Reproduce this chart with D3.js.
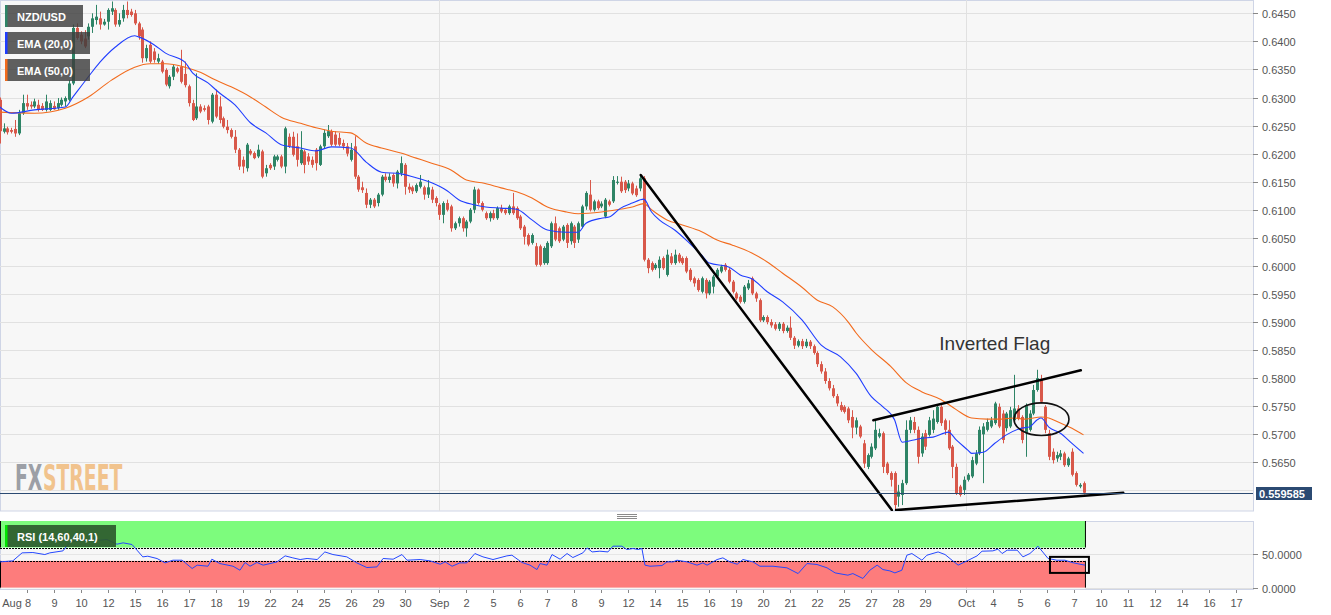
<!DOCTYPE html>
<html><head><meta charset="utf-8">
<script src="https://cdn.jsdelivr.net/npm/d3@7"></script>
<style>body{margin:0;background:#fff;}svg{display:block;font-family:Arial,"Liberation Sans",sans-serif;}</style>
</head><body><svg id="c" width="1331" height="615"></svg>
<script>
// ---- 4H candles NZD/USD (index 0 = first visible candle)
const opens=[
.6296,.6239,.6245,.6242,.6244,.6236,.6272,.6290,.6287,.6284,
.6287,.6285,.6278,.6278,.6285,.6281,.6287,.6293,.6296,.6325,
.6424,.6412,.6405,.6409,.6426,.6438,.6441,.6430,.6435,.6453,
.6456,.6430,.6441,.6456,.6453,.6450,.6432,.6421,.6370,.6394,
.6382,.6364,.6364,.6349,.6320,.6337,.6352,.6355,.6342,.6320,
.6290,.6263,.6284,.6281,.6284,.6257,.6305,.6284,.6263,.6248,
.6242,.6230,.6207,.6189,.6174,.6205,.6201,.6195,.6204,.6165,
.6180,.6177,.6189,.6195,.6177,.6230,.6230,.6213,.6183,.6204,
.6195,.6189,.6207,.6180,.6213,.6231,.6240,.6234,.6228,.6219,
.6213,.6189,.6213,.6159,.6140,.6130,.6109,.6118,.6112,.6127,
.6159,.6153,.6162,.6147,.6165,.6180,.6141,.6140,.6133,.6141,
.6140,.6127,.6136,.6121,.6109,.6091,.6112,.6106,.6067,.6076,
.6085,.6067,.6079,.6100,.6136,.6112,.6094,.6085,.6094,.6085,
.6103,.6100,.6094,.6106,.6103,.6088,.6070,.6055,.6041,.6035,
.6035,.6005,.6005,.6035,.6076,.6067,.6047,.6073,.6044,.6070,
.6047,.6070,.6106,.6127,.6100,.6115,.6106,.6088,.6115,.6115,
.6148,.6150,.6150,.6138,.6147,.6138,.6138,.6156,.6011,.6005,
.5996,.5996,.6014,.5984,.6017,.6005,.6020,.6014,.6014,.5993,
.5978,.5975,.5954,.5975,.5951,.5963,.5981,.5990,.6002,.5993,
.5972,.5951,.5945,.5936,.5960,.5978,.5951,.5939,.5903,.5909,
.5900,.5896,.5888,.5897,.5884,.5890,.5872,.5858,.5866,.5857,
.5865,.5857,.5845,.5825,.5812,.5795,.5782,.5768,.5752,.5749,
.5746,.5731,.5712,.5714,.5684,.5642,.5660,.5675,.5696,.5702,
.5648,.5631,.5631,.5589,.5592,.5613,.5708,.5722,.5708,.5666,
.5702,.5699,.5708,.5722,.5749,.5725,.5708,.5678,.5642,.5607,
.5601,.5619,.5625,.5648,.5666,.5700,.5708,.5714,.5720,.5749,
.5737,.5711,.5714,.5725,.5746,.5731,.5702,.5708,.5737,.5779,
.5797,.5749,.5702,.5669,.5657,.5660,.5666,.5645,.5669,.5631,
.5607,.5613];
const highs=[
.6300,.6254,.6248,.6246,.6260,.6278,.6305,.6305,.6293,.6298,
.6296,.6290,.6305,.6295,.6293,.6299,.6300,.6302,.6331,.6430,
.6432,.6418,.6420,.6432,.6450,.6465,.6453,.6440,.6459,.6471,
.6459,.6450,.6465,.6471,.6458,.6456,.6435,.6425,.6394,.6400,
.6388,.6378,.6367,.6352,.6340,.6358,.6355,.6385,.6364,.6323,
.6296,.6343,.6288,.6286,.6287,.6308,.6314,.6302,.6266,.6260,
.6245,.6242,.6210,.6195,.6219,.6208,.6204,.6216,.6207,.6180,
.6183,.6198,.6198,.6198,.6248,.6236,.6239,.6236,.6240,.6207,
.6201,.6195,.6210,.6216,.6243,.6251,.6243,.6240,.6237,.6225,
.6219,.6219,.6231,.6162,.6150,.6138,.6121,.6121,.6130,.6162,
.6165,.6165,.6165,.6171,.6195,.6183,.6147,.6143,.6147,.6162,
.6143,.6153,.6141,.6124,.6112,.6115,.6118,.6109,.6079,.6088,
.6088,.6082,.6103,.6141,.6138,.6115,.6097,.6097,.6100,.6106,
.6109,.6103,.6109,.6130,.6106,.6091,.6073,.6058,.6058,.6041,
.6038,.6035,.6044,.6079,.6088,.6070,.6073,.6076,.6079,.6073,
.6079,.6109,.6133,.6153,.6118,.6118,.6115,.6121,.6118,.6160,
.6160,.6159,.6153,.6153,.6150,.6143,.6162,.6160,.6014,.6008,
.6005,.6017,.6017,.6029,.6023,.6029,.6023,.6017,.6017,.5996,
.5981,.5978,.5981,.5978,.5975,.5984,.5996,.6002,.6005,.5996,
.5975,.5954,.5948,.5966,.5975,.5981,.5954,.5942,.5912,.5912,
.5905,.5900,.5900,.5900,.5894,.5910,.5875,.5869,.5870,.5870,
.5868,.5860,.5848,.5830,.5818,.5800,.5788,.5772,.5758,.5752,
.5749,.5743,.5730,.5717,.5690,.5666,.5684,.5725,.5710,.5705,
.5651,.5634,.5634,.5610,.5619,.5725,.5731,.5731,.5714,.5702,
.5708,.5731,.5743,.5752,.5752,.5728,.5725,.5681,.5648,.5610,
.5625,.5631,.5660,.5672,.5714,.5720,.5728,.5731,.5758,.5755,
.5743,.5740,.5749,.5806,.5752,.5734,.5755,.5743,.5788,.5815,
.5806,.5752,.5708,.5675,.5669,.5672,.5669,.5660,.5675,.5634,
.5613,.5616];
const lows=[
.6218,.6236,.6234,.6236,.6230,.6233,.6269,.6278,.6280,.6281,
.6275,.6276,.6275,.6276,.6278,.6278,.6284,.6284,.6293,.6322,
.6403,.6395,.6388,.6403,.6415,.6430,.6421,.6428,.6421,.6447,
.6426,.6426,.6435,.6441,.6444,.6429,.6403,.6362,.6364,.6361,
.6362,.6360,.6343,.6320,.6316,.6331,.6343,.6325,.6318,.6284,
.6258,.6260,.6272,.6275,.6252,.6254,.6263,.6254,.6245,.6236,
.6227,.6201,.6171,.6165,.6168,.6197,.6190,.6192,.6156,.6159,
.6171,.6171,.6186,.6174,.6165,.6210,.6195,.6177,.6180,.6165,
.6180,.6175,.6170,.6178,.6210,.6228,.6213,.6213,.6213,.6207,
.6195,.6186,.6155,.6132,.6130,.6103,.6103,.6103,.6106,.6124,
.6150,.6148,.6141,.6138,.6160,.6127,.6130,.6128,.6130,.6138,
.6118,.6121,.6112,.6106,.6082,.6076,.6097,.6061,.6064,.6070,
.6061,.6052,.6076,.6094,.6109,.6097,.6082,.6079,.6082,.6082,
.6094,.6091,.6091,.6091,.6082,.6064,.6038,.6035,.6038,.5999,
.5999,.6002,.6002,.6032,.6044,.6041,.6044,.6032,.6038,.6032,
.6041,.6067,.6100,.6097,.6097,.6100,.6103,.6085,.6106,.6112,
.6145,.6130,.6130,.6133,.6126,.6123,.6133,.6008,.5987,.5990,
.5993,.5978,.5993,.5981,.6002,.6002,.6005,.6002,.5987,.5972,
.5963,.5954,.5951,.5942,.5948,.5951,.5978,.5987,.5990,.5969,
.5951,.5939,.5933,.5933,.5957,.5948,.5936,.5900,.5900,.5896,
.5890,.5885,.5884,.5880,.5881,.5868,.5852,.5855,.5852,.5854,
.5852,.5842,.5820,.5808,.5790,.5778,.5765,.5750,.5740,.5737,
.5720,.5693,.5700,.5693,.5640,.5638,.5657,.5672,.5693,.5631,
.5628,.5607,.5565,.5571,.5574,.5610,.5702,.5702,.5648,.5660,
.5672,.5696,.5702,.5719,.5715,.5699,.5672,.5622,.5592,.5589,
.5592,.5616,.5622,.5645,.5663,.5613,.5705,.5711,.5717,.5711,
.5684,.5705,.5711,.5720,.5725,.5684,.5660,.5705,.5734,.5776,
.5755,.5702,.5654,.5648,.5651,.5654,.5642,.5642,.5625,.5607,
.5604,.5593];
const closes=[
.6240,.6245,.6238,.6239,.6236,.6272,.6290,.6284,.6284,.6293,
.6278,.6278,.6293,.6290,.6279,.6290,.6296,.6299,.6325,.6424,
.6406,.6400,.6391,.6426,.6441,.6444,.6430,.6435,.6456,.6459,
.6430,.6438,.6456,.6447,.6447,.6432,.6409,.6370,.6388,.6364,
.6367,.6370,.6346,.6323,.6337,.6355,.6346,.6328,.6322,.6290,
.6260,.6284,.6275,.6278,.6260,.6305,.6266,.6260,.6248,.6242,
.6230,.6207,.6177,.6177,.6216,.6200,.6192,.6207,.6159,.6174,
.6174,.6195,.6195,.6177,.6245,.6213,.6198,.6189,.6207,.6180,
.6186,.6180,.6183,.6213,.6237,.6240,.6216,.6216,.6216,.6213,
.6200,.6207,.6159,.6136,.6135,.6109,.6118,.6106,.6127,.6159,
.6153,.6159,.6147,.6168,.6183,.6141,.6136,.6133,.6144,.6150,
.6127,.6140,.6118,.6112,.6091,.6112,.6100,.6067,.6076,.6085,
.6067,.6079,.6100,.6136,.6112,.6100,.6085,.6094,.6085,.6103,
.6097,.6094,.6106,.6094,.6085,.6067,.6052,.6038,.6055,.6002,
.6002,.6032,.6041,.6076,.6047,.6044,.6070,.6041,.6076,.6041,
.6076,.6106,.6130,.6100,.6115,.6103,.6111,.6118,.6109,.6153,
.6150,.6133,.6135,.6147,.6129,.6126,.6156,.6011,.5996,.5993,
.6002,.6011,.5996,.6020,.6005,.6020,.6008,.6005,.5990,.5975,
.5969,.5957,.5978,.5951,.5972,.5981,.5993,.5999,.5993,.5972,
.5954,.5942,.5936,.5963,.5969,.5951,.5942,.5903,.5909,.5900,
.5894,.5888,.5897,.5884,.5890,.5872,.5858,.5866,.5857,.5865,
.5857,.5845,.5825,.5812,.5795,.5782,.5768,.5755,.5743,.5740,
.5725,.5712,.5725,.5696,.5648,.5663,.5678,.5708,.5702,.5642,
.5631,.5619,.5574,.5598,.5613,.5708,.5725,.5708,.5660,.5696,
.5678,.5725,.5728,.5749,.5720,.5708,.5675,.5642,.5595,.5592,
.5619,.5628,.5654,.5666,.5708,.5714,.5722,.5725,.5755,.5714,
.5690,.5737,.5743,.5746,.5728,.5690,.5752,.5737,.5779,.5800,
.5758,.5708,.5660,.5654,.5663,.5666,.5645,.5657,.5628,.5610,
.5610,.5596];
const lastPrice = 0.559585;

// EMA curves read at sample candles
const ema20Idx=[0,3,9,17,19,23,26,30,35,36,40,43,48,50,54,57,61,65,69,73,78,82,86,91,95,99,104,108,112,116,119,123,126,130,134,138,142,147,150,152,156,158,161,164,167,169,171,175,178,182,184,189,192,195,199,203,208,213,218,222,226,229,232,234,237,239,242,246,248,251,252,255,258,261,265,267,269,270,272,275,278,281];
const ema20Val=[.6283,.6272,.6278,.6283,.6301,.6337,.6363,.6390,.6410,.6408,.6394,.6379,.6363,.6344,.6326,.6308,.6287,.6255,.6237,.6216,.6210,.6205,.6212,.6210,.6185,.6167,.6164,.6157,.6148,.6134,.6118,.6109,.6105,.6103,.6101,.6082,.6064,.6060,.6060,.6076,.6085,.6087,.6103,.6112,.6119,.6096,.6082,.6064,.6046,.6019,.6005,.5998,.5984,.5977,.5954,.5936,.5904,.5859,.5838,.5809,.5767,.5749,.5726,.5686,.5690,.5693,.5695,.5704,.5690,.5672,.5666,.5668,.5684,.5699,.5711,.5713,.5726,.5729,.5713,.5702,.5684,.5666];
const ema50Idx=[0,9,17,23,29,35,39,43,48,52,56,60,65,69,73,78,82,86,91,95,99,104,108,112,117,121,125,130,134,138,142,147,150,156,160,164,167,169,173,177,182,186,190,195,199,203,208,212,216,220,222,226,231,235,239,244,248,252,256,259,263,266,270,272,275,278,281];
const ema50Val=[.6274,.6272,.6281,.6301,.6331,.6354,.6360,.6360,.6354,.6345,.6331,.6319,.6301,.6283,.6265,.6254,.6246,.6240,.6237,.6219,.6210,.6201,.6192,.6183,.6171,.6153,.6148,.6139,.6132,.6121,.6105,.6096,.6093,.6096,.6100,.6105,.6111,.6100,.6082,.6073,.6061,.6046,.6037,.6023,.6007,.5987,.5962,.5939,.5927,.5900,.5881,.5851,.5821,.5792,.5776,.5762,.5744,.5729,.5727,.5727,.5729,.5727,.5731,.5729,.5720,.5711,.5699];

// RSI (14)
const rsiIdx=[0.1,3.4,5.8,8.6,11.7,13,16.4,18.2,20,22.6,24.2,26,27.8,30.4,32,34.3,35.6,37.1,38.4,40.8,42.9,44.9,47.3,49.9,51.2,54,55,57.1,60.5,62.3,63.6,64.9,66.7,68.3,70.1,71.9,74,76,77.9,79.7,82.3,84.3,86.4,90,92.6,95.2,97.8,99.4,102,104.3,105.6,109,111.6,114.2,115.5,117.3,119.3,121.1,123.2,125.3,127.9,131.5,132.8,135.4,137.5,139.3,140.1,141.9,143.2,145.3,147.1,148.6,151.2,152.3,153.6,155.6,157.7,159,161.3,162.6,164.2,165.5,166.5,167.3,168.6,171.7,173,174.6,175.6,178.2,180.8,182.3,183.4,186,187.5,189.3,191.2,192.7,195.3,197.1,200.5,204.1,207,209.3,211.9,214.5,216.6,219.9,221.2,223.8,225.6,227.5,229,230.8,232.1,233.9,235.2,236.5,239.1,240.4,243.3,245.1,246.9,248.5,250.8,253.4,254.7,257.5,258.8,259.9,261.2,263.8,265.3,267.1,269.2,271.8,274.1,276.2,278,280.1,281.4];
const rsiVal=[38.5,40,52,52.5,49.5,52,55,68,70,71,73,71,72,65,67,64.5,56,46,47,43.5,37,41,41,28.6,33.6,32,42.5,36,32,26,37.6,32,37.6,33.6,36,38.5,47.5,44.5,42,43.6,42,53.4,49.5,46,37,30,31,43.6,42.5,49.5,41,42,40,35,38.5,32,37,37,51,46,42,47.5,48.5,37.6,33.6,27,36,33.6,49.5,42.5,51,45,52,59.4,53.4,54.5,53.4,62,62,57,58.5,57,58.5,33.6,32,33,38.5,38.5,41,38.5,33.6,37,33.6,42,44.5,38.5,35,42,38.5,32,32,29.6,21,36,34.6,29.6,22,18.6,21,13.7,26,33.6,27,25,22,26,48.5,51,41,48.5,53.4,49.5,41,33.6,40,47.5,54.5,55,57.5,51,56,56,46,51,62,43.6,41,41,37.6,35,33.6];
const rsiUpper=60, rsiLower=40;

// axis labels
const priceTicks=[0.6450,0.6400,0.6350,0.6300,0.6250,0.6200,0.6150,0.6100,0.6050,0.6000,0.5950,0.5900,0.5850,0.5800,0.5750,0.5700,0.5650,0.5600];
const priceTickLabels=["0.6450","0.6400","0.6350","0.6300","0.6250","0.6200","0.6150","0.6100","0.6050","0.6000","0.5950","0.5900","0.5850","0.5800","0.5750","0.5700","0.5650",""];
const rsiTicks=[50,0];
const rsiTickLabels=["50.0000","0.0000"];
const xTickLabels=["Aug 8","9","10","12","15","16","17","18","19","22","24","25","26","29","30","Sep","2","5","6","7","8","9","12","14","15","16","19","20","21","22","25","27","28","29","Oct","4","5","6","7","10","11","12","14","16","17"];
const xTickIdx=[7,14,21,28,35,42,49,56,63,70,77,84,91,98,105,114,121,128,135,142,149,156,163,170,177,184,191,198,205,212,219,226,233,240,250.5,257.5,264.5,271.5,278.5,285.5,292.5,299.5,306.5,313.5,320.5];
const monthIdx=[114,250.5];

// annotations (candle index, price)
const trendFromIdx=[166.2,232.4,226.5], trendFromPx=[0.6162,0.5565,0.5725];
const trendToIdx=[231.3,291.3,280.3],   trendToPx=[0.5565,0.5596,0.5814];
const circleIdx=270.1, circlePx=0.5727;
const rsiBox=[272.3,282.4,46,22];
const flagLabel="Inverted Flag"; const flagLabelIdx=258, flagLabelPx=0.5850;
const logoParts=["FX","STREET"], logoColors=["#9c9fa6","#f1c38d"];

// ---------- drawing
const svg=d3.select('#c');
const PW=1253, MB=511, RT=521, RB=589;
const x=d3.scaleLinear().domain([0,320]).range([-0.3,-0.3+320*3.857]);
const y=d3.scaleLinear().domain([0.5650,0.6450]).range([462.4,13.3]);
const yR=d3.scaleLinear().domain([0,100]).range([587.6,520.8]);
const GREEN="#2e8466", RED="#d8584a";

const defs=svg.append('defs');
defs.append('clipPath').attr('id','mainClip').append('rect').attr('x',0).attr('y',0).attr('width',PW).attr('height',MB);
defs.append('clipPath').attr('id','rsiClip').append('rect').attr('x',0).attr('y',RT).attr('width',PW).attr('height',RB-RT);

// panels
svg.append('rect').attr('x',0.5).attr('y',0.5).attr('width',PW).attr('height',MB-0.5).attr('fill','#f7f7f7').attr('stroke','#cfd5e6');
svg.append('rect').attr('x',0.5).attr('y',RT+0.5).attr('width',PW).attr('height',RB-RT).attr('fill','#f7f7f7').attr('stroke','#cfd5e6');

// grid
const g=svg.append('g').attr('clip-path','url(#mainClip)');
g.selectAll('line.hg').data(priceTicks).join('line').attr('x1',0).attr('x2',PW)
 .attr('y1',d=>Math.round(y(d))+0.5).attr('y2',d=>Math.round(y(d))+0.5).attr('stroke','#e1e1e1');
g.selectAll('line.vg').data(monthIdx).join('line').attr('y1',0).attr('y2',MB)
 .attr('x1',d=>Math.round(x(d))+0.5).attr('x2',d=>Math.round(x(d))+0.5).attr('stroke','#e1e1e1');
const gr=svg.append('g').attr('clip-path','url(#rsiClip)');
gr.selectAll('line').data(monthIdx).join('line').attr('y1',RT).attr('y2',RB)
 .attr('x1',d=>Math.round(x(d))+0.5).attr('x2',d=>Math.round(x(d))+0.5).attr('stroke','#e1e1e1');

// logo: two texts side by side, group squeezed horizontally to the logo width
{
  const lg=svg.append('g');
  let cx=0; const nodes=[];
  logoParts.forEach((t,k)=>{
    const n=lg.append('text').attr('x',cx).attr('y',0).attr('fill',logoColors[k])
      .attr('font-family','"Liberation Sans Narrow","DejaVu Sans Condensed",Arial,sans-serif')
      .attr('font-weight','bold').attr('font-size',35).text(t);
    cx+=n.node().getComputedTextLength()+1;
    nodes.push(n);
  });
  const sx=108/cx;
  lg.attr('transform',`translate(15,490) scale(${sx},1)`);
}

// candles
const data=d3.range(closes.length).map(i=>({i,o:opens[i],h:highs[i],l:lows[i],c:closes[i]}));
const cg=g.append('g');
cg.selectAll('line').data(data).join('line')
 .attr('x1',d=>Math.round(x(d.i))+0.5).attr('x2',d=>Math.round(x(d.i))+0.5)
 .attr('y1',d=>y(d.h)).attr('y2',d=>y(d.l))
 .attr('stroke',d=>d.c>=d.o?GREEN:RED).attr('stroke-width',1);
cg.selectAll('rect').data(data).join('rect')
 .attr('x',d=>Math.round(x(d.i))-1).attr('width',3)
 .attr('y',d=>y(Math.max(d.o,d.c))).attr('height',d=>Math.max(1,Math.abs(y(d.o)-y(d.c))))
 .attr('fill',d=>d.c>=d.o?GREEN:RED);

// EMAs
const line=d3.line().x(d=>x(d[0])).y(d=>y(d[1])).curve(d3.curveMonotoneX);
g.append('path').datum(ema50Idx.map((v,k)=>[v,ema50Val[k]])).attr('d',line).attr('fill','none').attr('stroke','#f26b1d').attr('stroke-width',1.1);
g.append('path').datum(ema20Idx.map((v,k)=>[v,ema20Val[k]])).attr('d',line).attr('fill','none').attr('stroke','#1f3dff').attr('stroke-width',1.1);

// trendlines
const ann=svg.append('g').attr('clip-path','url(#mainClip)');
ann.selectAll('line').data(trendFromIdx.map((v,k)=>k)).join('line')
 .attr('x1',k=>x(trendFromIdx[k])).attr('y1',k=>y(trendFromPx[k]))
 .attr('x2',k=>x(trendToIdx[k])).attr('y2',k=>y(trendToPx[k]))
 .attr('stroke','#000').attr('stroke-width',2.5).attr('stroke-linecap','round');
ann.append('ellipse').attr('cx',x(circleIdx)).attr('cy',y(circlePx)).attr('rx',27.5).attr('ry',16.3)
 .attr('fill','none').attr('stroke','#111').attr('stroke-width',1.6);
svg.append('text').attr('x',x(flagLabelIdx)).attr('y',y(flagLabelPx)).attr('text-anchor','middle')
 .attr('font-size',19).attr('fill','#333').text(flagLabel);

// last price line
const ly=Math.round(y(lastPrice))+0.5;
svg.append('line').attr('x1',0).attr('x2',PW).attr('y1',ly).attr('y2',ly).attr('stroke','#2b4a72').attr('stroke-width',1);

// legends
function legend(yy,w,label,col,bg){
  const lg=svg.append('g');
  lg.append('rect').attr('x',5).attr('y',yy).attr('width',w).attr('height',22).attr('fill',bg).attr('opacity',0.82);
  lg.append('rect').attr('x',5).attr('y',yy).attr('width',2.5).attr('height',22).attr('fill',col);
  lg.append('text').attr('x',17).attr('y',yy+15.5).attr('fill','#fff').attr('font-weight','bold').attr('font-size',11).text(label);
}
legend(5,78,'NZD/USD','#2e8466','#3d3d3d');
legend(32,85,'EMA (20,0)','#1f3dff','#3d3d3d');
legend(59,85,'EMA (50,0)','#f26b1d','#3d3d3d');

// RSI panel
const bandEnd=x(281.5);
gr.append('rect').attr('x',0).attr('y',yR(100)).attr('width',bandEnd).attr('height',yR(rsiUpper)-yR(100)).attr('fill','#7dfc7d');
gr.append('rect').attr('x',0).attr('y',yR(rsiLower)).attr('width',bandEnd).attr('height',yR(0)-yR(rsiLower)).attr('fill','#fd7c7c');
gr.selectAll('line.rg').data(rsiTicks).join('line').attr('x1',bandEnd).attr('x2',PW)
 .attr('y1',d=>Math.round(yR(d))+0.5).attr('y2',d=>Math.round(yR(d))+0.5).attr('stroke','#e1e1e1');
gr.append('line').attr('x1',0).attr('x2',bandEnd).attr('y1',Math.round(yR(50))+0.5).attr('y2',Math.round(yR(50))+0.5).attr('stroke','#e6e6e6');
[rsiUpper,rsiLower].forEach(v=>{
  gr.append('line').attr('x1',0).attr('x2',bandEnd).attr('y1',Math.round(yR(v))+0.5).attr('y2',Math.round(yR(v))+0.5)
   .attr('stroke','#000').attr('stroke-dasharray','2,1');
});
[[100,rsiUpper],[rsiLower,0]].forEach(p=>{
  [0.5,bandEnd].forEach(xx=>gr.append('line').attr('x1',xx).attr('x2',xx).attr('y1',yR(p[0])).attr('y2',yR(p[1])).attr('stroke','#000'));
});
gr.append('path').datum(rsiIdx.map((v,k)=>[v,rsiVal[k]]))
 .attr('d',d3.line().x(d=>x(d[0])).y(d=>yR(d[1]))).attr('fill','none').attr('stroke','#2447ff').attr('stroke-width',1);
gr.append('rect').attr('x',x(rsiBox[0])).attr('y',yR(rsiBox[2])).attr('width',x(rsiBox[1])-x(rsiBox[0])).attr('height',yR(rsiBox[3])-yR(rsiBox[2]))
 .attr('fill','none').attr('stroke','#000').attr('stroke-width',2);
{
  const lg=svg.append('g');
  lg.append('rect').attr('x',5).attr('y',525).attr('width',111).attr('height',22).attr('fill','#2c5a2c').attr('opacity',0.92);
  lg.append('rect').attr('x',5).attr('y',525).attr('width',2.5).attr('height',22).attr('fill','#00e600');
  lg.append('text').attr('x',17).attr('y',540.5).attr('fill','#fff').attr('font-weight','bold').attr('font-size',11).text('RSI (14,60,40,1)');
}

// splitter grip
[514,516,518].forEach(yy=>svg.append('line').attr('x1',617).attr('x2',637).attr('y1',yy+0.5).attr('y2',yy+0.5).attr('stroke','#8a8a8a'));

// axes
const ax=svg.append('g').attr('font-size',11).attr('fill','#555');
priceTicks.forEach((t,k)=>{
  if(!priceTickLabels[k]) return;
  const yy=Math.round(y(t))+0.5;
  ax.append('line').attr('x1',PW).attr('x2',PW+5).attr('y1',yy).attr('y2',yy).attr('stroke','#888');
  ax.append('text').attr('x',1262).attr('y',yy+4).text(priceTickLabels[k]);
});
rsiTicks.forEach((t,k)=>{
  const yy=Math.round(yR(t))+0.5;
  ax.append('line').attr('x1',PW).attr('x2',PW+5).attr('y1',yy).attr('y2',yy).attr('stroke','#888');
  ax.append('text').attr('x',1262).attr('y',yy+4).text(rsiTickLabels[k]);
});
xTickIdx.forEach((t,k)=>{
  const xx=Math.round(x(t))+0.5;
  ax.append('line').attr('x1',xx).attr('x2',xx).attr('y1',RB+1).attr('y2',RB+4).attr('stroke','#888');
  const lab=xTickLabels[k];
  if(k===0) ax.append('text').attr('x',xx+3.5).attr('y',607).attr('text-anchor','end').text(lab);
  else ax.append('text').attr('x',xx).attr('y',607).attr('text-anchor','middle').text(lab);
});
// last price tag
svg.append('rect').attr('x',1256).attr('y',ly-6.5).attr('width',56).attr('height',13).attr('fill','#2b4a72');
svg.append('text').attr('x',1259).attr('y',ly+4).attr('fill','#fff').attr('font-size',11).attr('font-weight','bold').text(lastPrice.toFixed(6));
</script></body></html>
